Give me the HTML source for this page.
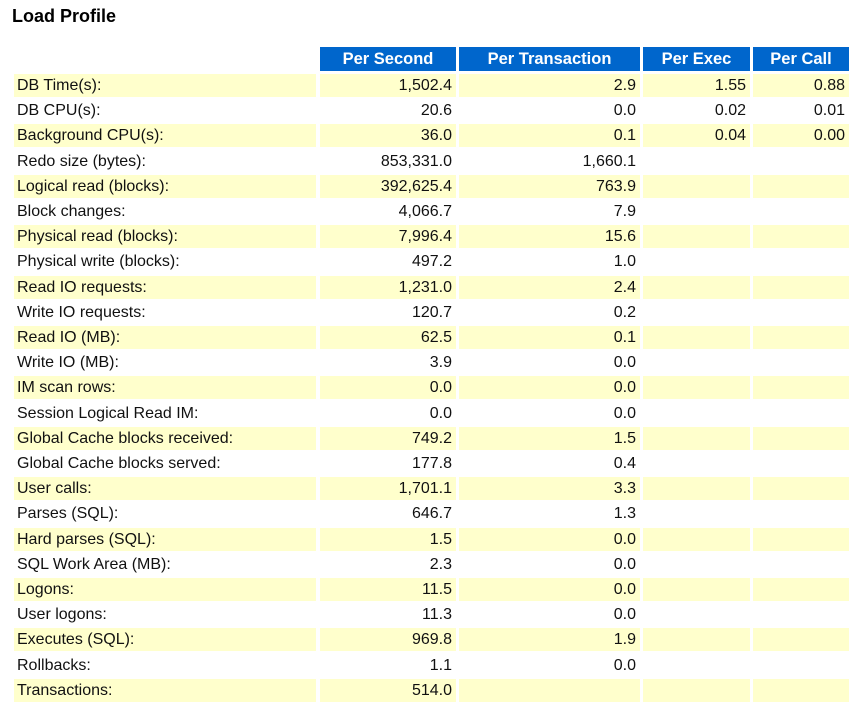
<!DOCTYPE html>
<html><head><meta charset="utf-8"><style>
body{margin:0;width:865px;height:717px;background:#fff;font-family:"Liberation Sans",Arial,sans-serif;color:#111;position:relative;overflow:hidden}
.t{position:absolute;left:12px;top:6px;font-weight:bold;font-size:18px;color:#000}
.r{position:absolute;left:0;height:23px;width:865px}
.r div{position:absolute;top:0;height:23px;line-height:23px;font-size:16px;box-sizing:border-box;white-space:nowrap}
.c0{left:14px;width:302px;padding-left:3px}
.c1{left:320px;width:136px;text-align:right;padding-right:4px}
.c2{left:459px;width:181px;text-align:right;padding-right:4px}
.c3{left:643px;width:107px;text-align:right;padding-right:4px}
.c4{left:753px;width:96px;text-align:right;padding-right:4px}
.y div{background:#ffffcc}
.h div{background:#0066cc;color:#fff;font-weight:bold;text-align:center;padding:0;height:24px;line-height:24px;font-size:16.5px}
</style></head><body>
<div class="t">Load Profile</div>
<div class="r h" style="top:47px"><div class="c1">Per Second</div><div class="c2">Per Transaction</div><div class="c3">Per Exec</div><div class="c4">Per Call</div></div>
<div class="r y" style="top:74px"><div class="c0">DB Time(s):</div><div class="c1">1,502.4</div><div class="c2">2.9</div><div class="c3">1.55</div><div class="c4">0.88</div></div>
<div class="r" style="top:99.2px"><div class="c0">DB CPU(s):</div><div class="c1">20.6</div><div class="c2">0.0</div><div class="c3">0.02</div><div class="c4">0.01</div></div>
<div class="r y" style="top:124.4px"><div class="c0">Background CPU(s):</div><div class="c1">36.0</div><div class="c2">0.1</div><div class="c3">0.04</div><div class="c4">0.00</div></div>
<div class="r" style="top:149.6px"><div class="c0">Redo size (bytes):</div><div class="c1">853,331.0</div><div class="c2">1,660.1</div><div class="c3"></div><div class="c4"></div></div>
<div class="r y" style="top:174.8px"><div class="c0">Logical read (blocks):</div><div class="c1">392,625.4</div><div class="c2">763.9</div><div class="c3"></div><div class="c4"></div></div>
<div class="r" style="top:200px"><div class="c0">Block changes:</div><div class="c1">4,066.7</div><div class="c2">7.9</div><div class="c3"></div><div class="c4"></div></div>
<div class="r y" style="top:225.2px"><div class="c0">Physical read (blocks):</div><div class="c1">7,996.4</div><div class="c2">15.6</div><div class="c3"></div><div class="c4"></div></div>
<div class="r" style="top:250.4px"><div class="c0">Physical write (blocks):</div><div class="c1">497.2</div><div class="c2">1.0</div><div class="c3"></div><div class="c4"></div></div>
<div class="r y" style="top:275.6px"><div class="c0">Read IO requests:</div><div class="c1">1,231.0</div><div class="c2">2.4</div><div class="c3"></div><div class="c4"></div></div>
<div class="r" style="top:300.8px"><div class="c0">Write IO requests:</div><div class="c1">120.7</div><div class="c2">0.2</div><div class="c3"></div><div class="c4"></div></div>
<div class="r y" style="top:326px"><div class="c0">Read IO (MB):</div><div class="c1">62.5</div><div class="c2">0.1</div><div class="c3"></div><div class="c4"></div></div>
<div class="r" style="top:351.2px"><div class="c0">Write IO (MB):</div><div class="c1">3.9</div><div class="c2">0.0</div><div class="c3"></div><div class="c4"></div></div>
<div class="r y" style="top:376.4px"><div class="c0">IM scan rows:</div><div class="c1">0.0</div><div class="c2">0.0</div><div class="c3"></div><div class="c4"></div></div>
<div class="r" style="top:401.6px"><div class="c0">Session Logical Read IM:</div><div class="c1">0.0</div><div class="c2">0.0</div><div class="c3"></div><div class="c4"></div></div>
<div class="r y" style="top:426.8px"><div class="c0">Global Cache blocks received:</div><div class="c1">749.2</div><div class="c2">1.5</div><div class="c3"></div><div class="c4"></div></div>
<div class="r" style="top:452px"><div class="c0">Global Cache blocks served:</div><div class="c1">177.8</div><div class="c2">0.4</div><div class="c3"></div><div class="c4"></div></div>
<div class="r y" style="top:477.2px"><div class="c0">User calls:</div><div class="c1">1,701.1</div><div class="c2">3.3</div><div class="c3"></div><div class="c4"></div></div>
<div class="r" style="top:502.4px"><div class="c0">Parses (SQL):</div><div class="c1">646.7</div><div class="c2">1.3</div><div class="c3"></div><div class="c4"></div></div>
<div class="r y" style="top:527.6px"><div class="c0">Hard parses (SQL):</div><div class="c1">1.5</div><div class="c2">0.0</div><div class="c3"></div><div class="c4"></div></div>
<div class="r" style="top:552.8px"><div class="c0">SQL Work Area (MB):</div><div class="c1">2.3</div><div class="c2">0.0</div><div class="c3"></div><div class="c4"></div></div>
<div class="r y" style="top:578px"><div class="c0">Logons:</div><div class="c1">11.5</div><div class="c2">0.0</div><div class="c3"></div><div class="c4"></div></div>
<div class="r" style="top:603.2px"><div class="c0">User logons:</div><div class="c1">11.3</div><div class="c2">0.0</div><div class="c3"></div><div class="c4"></div></div>
<div class="r y" style="top:628.4px"><div class="c0">Executes (SQL):</div><div class="c1">969.8</div><div class="c2">1.9</div><div class="c3"></div><div class="c4"></div></div>
<div class="r" style="top:653.6px"><div class="c0">Rollbacks:</div><div class="c1">1.1</div><div class="c2">0.0</div><div class="c3"></div><div class="c4"></div></div>
<div class="r y" style="top:678.8px"><div class="c0">Transactions:</div><div class="c1">514.0</div><div class="c2"></div><div class="c3"></div><div class="c4"></div></div>
</body></html>
